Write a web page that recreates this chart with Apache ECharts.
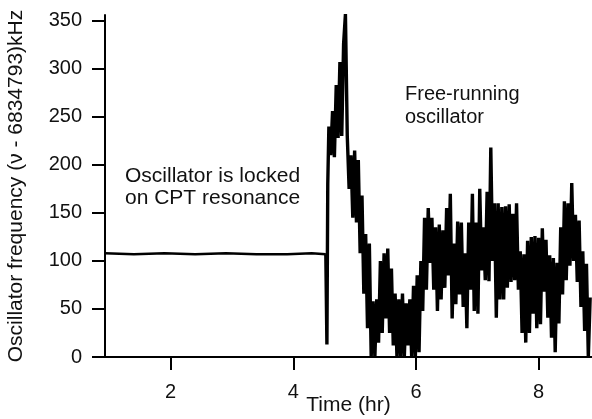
<!DOCTYPE html>
<html><head><meta charset="utf-8">
<script src="https://cdn.jsdelivr.net/npm/echarts@6/dist/echarts.min.js"></script>
<style>html,body{margin:0;padding:0;background:#fff}#c{width:592px;height:419px}</style>
</head><body><div id="c"></div>
<script>
// Axis ticks
const xTicks = [2, 4, 6, 8];
const yTicks = [0, 50, 100, 150, 200, 250, 300, 350];

// Locked on CPT resonance (hr, kHz)
const lockedTime = [0.93, 1.4, 1.9, 2.4, 2.9, 3.4, 3.9, 4.3, 4.53];
const lockedKHz  = [108, 107, 108, 107, 108, 107, 107, 108, 107];

// Unlock transition
const transitionTime = [4.53, 4.548, 4.562];
const transitionKHz  = [107, 13, 180];

// Free-running oscillator, sampled every 0.03 hr from 4.58 hr
const freeStart = 4.58, freeStep = 0.03;
const freeKHz = [
  240,210,256,208,283,228,307,230,326,357,230,175,210,145,215,140,205,108,168,66,
  128,30,118,0,58,0,60,15,100,25,108,40,113,25,92,12,66,0,60,0,
  66,0,56,12,60,0,74,0,85,5,100,48,145,70,155,98,145,70,135,48,
  138,60,132,72,155,85,170,40,118,55,141,65,140,52,108,30,140,70,170,48,
  140,45,175,90,135,80,172,79,218,100,160,41,160,60,156,60,157,72,159,78,
  149,80,160,70,110,25,107,15,121,25,125,45,126,30,124,34,134,68,122,41,
  106,20,103,5,98,35,135,65,162,80,160,95,181,100,148,78,142,52,110,27,
  97,0,62
];

const lockedPts = lockedTime.map((t, i) => [t, lockedKHz[i]]);
const freePts = transitionTime.map((t, i) => [t, transitionKHz[i]]);
freeKHz.forEach((v, i) => freePts.push([+(freeStart + freeStep * i).toFixed(3), v]));

const FONT = '"Liberation Sans", Arial, sans-serif';
const chart = echarts.init(document.getElementById('c'), null, {renderer: 'canvas'});
chart.setOption({
  animation: false,
  grid: {left: 105, right: 0, top: 15, bottom: 62, outerBoundsMode: 'none', containLabel: false},
  xAxis: {
    type: 'value', min: 0.93, max: 8.87,
    axisLine: {onZero: false, lineStyle: {color: '#000', width: 2}},
    axisTick: {customValues: xTicks, length: 13, inside: false, lineStyle: {color: '#000', width: 2}},
    axisLabel: {customValues: xTicks, margin: 25, fontSize: 20, color: '#111', fontFamily: FONT},
    splitLine: {show: false},
    name: 'Time (hr)', nameLocation: 'middle', nameGap: 38, nameMoveOverlap: false,
    nameTextStyle: {fontSize: 21, color: '#111', fontFamily: FONT}
  },
  yAxis: {
    type: 'value', min: 0, max: 356,
    axisLine: {show: true, onZero: false, lineStyle: {color: '#000', width: 2}},
    axisTick: {show: true, customValues: yTicks, length: 13, inside: false, lineStyle: {color: '#000', width: 2}},
    axisLabel: {customValues: yTicks, margin: 23, fontSize: 20, color: '#111', fontFamily: FONT},
    splitLine: {show: false},
    name: 'Oscillator frequency (\u03bd - 6834793)kHz', nameLocation: 'middle', nameGap: 78, nameRotate: 90, nameMoveOverlap: false,
    nameTextStyle: {fontSize: 21, color: '#111', fontFamily: FONT}
  },
  series: [
    {type: 'line', data: lockedPts, showSymbol: false, silent: true, lineStyle: {color: '#000', width: 2.5}},
    {type: 'line', data: freePts, showSymbol: false, silent: true, lineStyle: {color: '#000', width: 3.4, join: 'miter', miterLimit: 2}}
  ],
  graphic: [
    {type: 'text', left: 125, top: 165, style: {text: 'Oscillator is locked\non CPT resonance', font: '21px ' + FONT, fill: '#111', lineHeight: 22}},
    {type: 'text', left: 405, top: 83, style: {text: 'Free-running\noscillator', font: '20px ' + FONT, fill: '#111', lineHeight: 23}}
  ]
});
</script></body></html>
